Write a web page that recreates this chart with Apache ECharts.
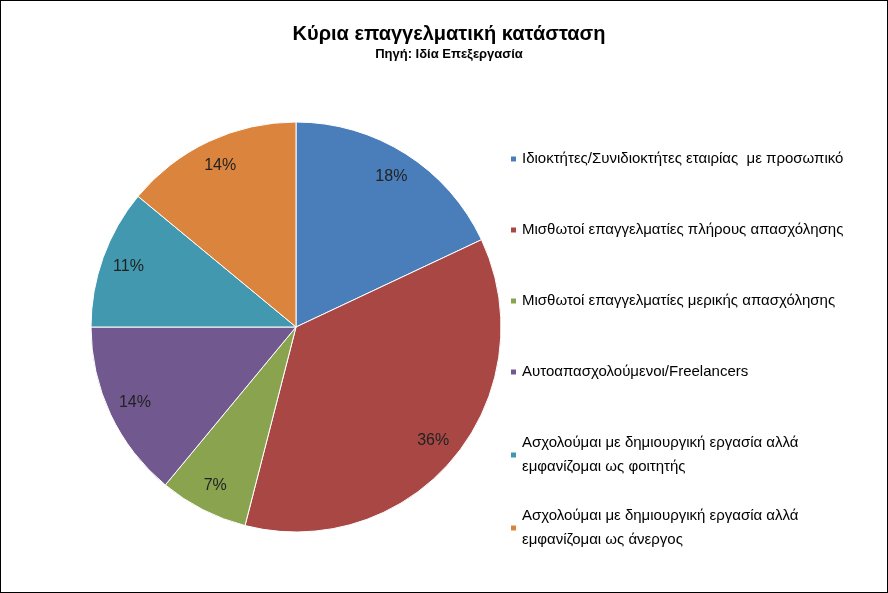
<!DOCTYPE html><html><head><meta charset="utf-8"><script src="https://cdn.jsdelivr.net/npm/echarts@6/dist/echarts.min.js"></script>
<style>html,body{margin:0;padding:0;background:#fff}#c{width:886px;height:591px;border:1px solid #000}</style></head><body><div id="c"></div><script>
const categories=["Ιδιοκτήτες/Συνιδιοκτήτες εταιρίας  με προσωπικό","Μισθωτοί επαγγελματίες πλήρους απασχόλησης","Μισθωτοί επαγγελματίες μερικής απασχόλησης","Αυτοαπασχολούμενοι/Freelancers","Ασχολούμαι με δημιουργική εργασία αλλά\nεμφανίζομαι ως φοιτητής","Ασχολούμαι με δημιουργική εργασία αλλά\nεμφανίζομαι ως άνεργος"];
const values=[18,36,7,14,11,14];
const colors=["#4A7EBB","#A84744","#8AA34F","#71588F","#4198AF","#DB843D"];
const data=categories.map((n,i)=>({name:n,value:values[i],itemStyle:{color:colors[i]}}));
const font="'Liberation Sans Narrow','Liberation Sans',Arial,sans-serif";
const leg={orient:'vertical',left:503,itemWidth:7,itemHeight:7,icon:'rect',itemGap:47,selectedMode:false,
 textStyle:{fontFamily:font,fontSize:15,color:'#000',lineHeight:24}};
const ch=echarts.init(document.getElementById('c'));
ch.setOption({
 title:{text:'Κύρια επαγγελματική κατάσταση',subtext:'Πηγή: Ιδία Επεξεργασία',left:443,textAlign:'center',top:18,itemGap:4,
  textStyle:{fontFamily:font,fontSize:20,fontWeight:'bold',color:'#000'},
  subtextStyle:{fontFamily:font,fontSize:13,fontWeight:'bold',color:'#000'}},
 legend:[Object.assign({},leg,{top:141,data:categories.slice(0,5)}),Object.assign({},leg,{top:498,data:categories.slice(5)})],
 series:[
  {type:'pie',center:[295,326],radius:[0,205],startAngle:90,clockwise:true,data:data,label:{show:false},labelLine:{show:false},
   itemStyle:{borderColor:'#fff',borderWidth:1},silent:true,animation:false},
  {type:'pie',center:[295,326],radius:[145,205],startAngle:90,clockwise:true,silent:true,animation:false,
   data:values.map((v,i)=>({name:'l'+i,value:v,itemStyle:{color:'rgba(0,0,0,0)'}})),
   label:{show:true,position:'inside',formatter:p=>p.value+'%',fontFamily:"'Liberation Sans',Arial,sans-serif",fontSize:16,color:'#222'},labelLine:{show:false}}
 ]});
</script></body></html>
